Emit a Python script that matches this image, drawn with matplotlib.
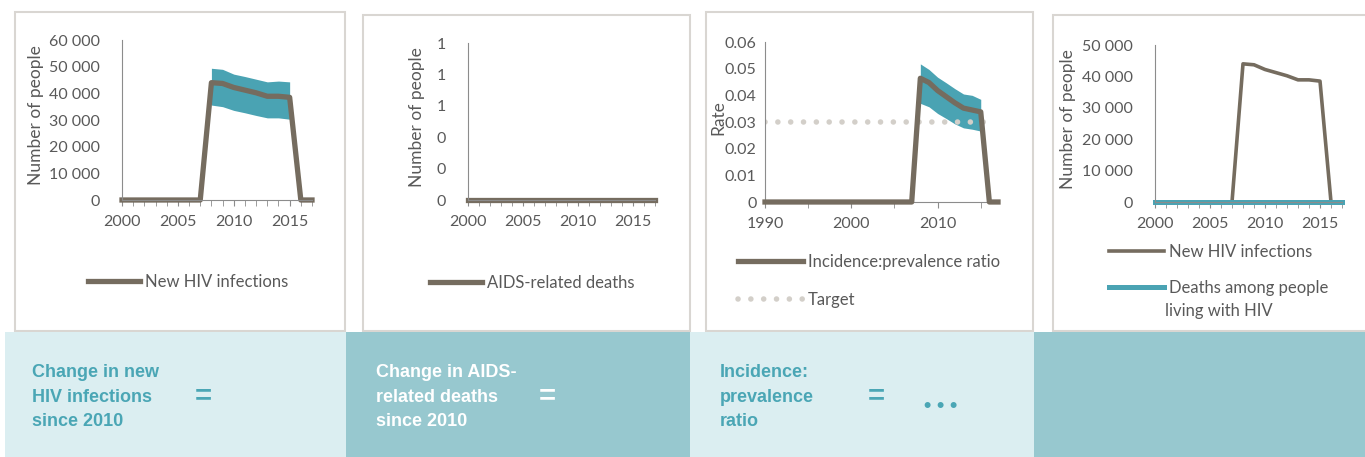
import matplotlib
matplotlib.use('Agg')
import matplotlib.pyplot as plt
from matplotlib.patches import Rectangle
from matplotlib.ticker import FuncFormatter, MultipleLocator

# ---- data ----
years = [2000, 2001, 2002, 2003, 2004, 2005, 2006, 2007, 2008, 2009,
         2010, 2011, 2012, 2013, 2014, 2015, 2016, 2017]
new_infections = [0, 0, 0, 0, 0, 0, 0, 0, 44000, 43700,
                  42200, 41200, 40200, 38900, 38900, 38500, 0, 0]
band_years = [2008, 2009, 2010, 2011, 2012, 2013, 2014, 2015]
infections_upper = [49400, 49000, 47200, 46300, 45300, 44300, 44600, 44300]
infections_lower = [35600, 35000, 33600, 32700, 31700, 30800, 30800, 30300]

aids_deaths = [0, 0, 0, 0, 0, 0, 0, 0, 0, 0, 0, 0, 0, 0, 0, 0, 0, 0]
deaths_plhiv = [0, 0, 0, 0, 0, 0, 0, 0, 0, 0, 0, 0, 0, 0, 0, 0, 0, 0]

ratio_years = [1990, 1991, 1992, 1993, 1994, 1995, 1996, 1997, 1998, 1999,
               2000, 2001, 2002, 2003, 2004, 2005, 2006, 2007, 2008, 2009,
               2010, 2011, 2012, 2013, 2014, 2015, 2016, 2017]
ratio = [0, 0, 0, 0, 0, 0, 0, 0, 0, 0,
         0, 0, 0, 0, 0, 0, 0, 0, 0.0464, 0.0448,
         0.0418, 0.0395, 0.0372, 0.0352, 0.0345, 0.0338, 0, 0]
ratio_upper = [0.0518, 0.0497, 0.0468, 0.0447, 0.0425, 0.0405, 0.0400, 0.0385]
ratio_lower = [0.0370, 0.0357, 0.0332, 0.0313, 0.0293, 0.0278, 0.0273, 0.0266]
target_years = [1990, 2016]
target = [0.03, 0.03]

LINE = '#756C5F'
TEAL = '#4AA3B3'
GREY = '#595959'
BOX = '#D9D6D2'
LIGHT = '#DBEEF1'
DARK = '#97C8CF'
TXT = '#4AA6B5'
DOTS = '#D3CFC9'

W, H = 1365, 457
fig = plt.figure(figsize=(W / 100, H / 100), dpi=100)
plt.rcParams['font.family'] = ['Lato', 'DejaVu Sans']


def px(x0, y0, x1, y1):
    # pixel box (top-left origin) -> figure fraction rect
    return [x0 / W, 1 - y1 / H, (x1 - x0) / W, (y1 - y0) / H]


def style_axis(ax, xmin, xmax, ymax, major, minor, ylabel, lab_x, pad):
    ax.set_xlim(xmin, xmax)
    ax.set_ylim(0, ymax)
    for s in ['top', 'right']:
        ax.spines[s].set_visible(False)
    ax.spines['left'].set_color('#8C8C8C')
    ax.spines['bottom'].set_color('#8C8C8C')
    ax.xaxis.set_major_locator(MultipleLocator(major))
    ax.xaxis.set_minor_locator(MultipleLocator(minor))
    ax.tick_params(axis='x', which='both', direction='out', length=4,
                   color='#8C8C8C', labelsize=11.5, labelcolor=GREY, pad=7)
    ax.tick_params(axis='y', length=0, labelsize=11.5, labelcolor=GREY, pad=pad)
    ax.set_ylabel(ylabel, fontsize=12.5, color=GREY)
    ax.yaxis.set_label_coords(lab_x, 0.53)
    ax.patch.set_alpha(0)


def put_legend(ax, handles, labels, x, y, hl, sp=0.5, loc='center left'):
    ax.legend(handles, labels, loc=loc, bbox_to_anchor=(x / W, 1 - y / H),
              bbox_transform=fig.transFigure, frameon=False, fontsize=12,
              handlelength=hl, handletextpad=0.3, labelcolor=GREY,
              labelspacing=sp)


space_fmt = FuncFormatter(lambda v, p: f'{int(v):,}'.replace(',', ' '))

# white boxes behind each chart
for x0, y0, x1 in [(15, 12, 345), (363, 15, 690), (706, 12, 1033), (1053, 15, 1375)]:
    fig.add_artist(Rectangle((x0 / W, 1 - 331 / H), (x1 - x0) / W, (331 - y0) / H,
                             transform=fig.transFigure, facecolor='white',
                             edgecolor=BOX, lw=1.5, zorder=-2))

# bottom band
for x0, x1, c in [(5, 346, LIGHT), (346, 690, DARK), (690, 1034, LIGHT), (1034, 1365, DARK)]:
    fig.add_artist(Rectangle((x0 / W, 0), (x1 - x0) / W, 1 - 332 / H,
                             transform=fig.transFigure, facecolor=c, edgecolor='none',
                             zorder=-1))

# panel 1: new HIV infections
ax1 = fig.add_axes(px(122, 40, 312, 200))
ax1.fill_between(band_years, infections_lower, infections_upper, color=TEAL, lw=0)
ax1.plot(years, new_infections, color=LINE, lw=3.8, label='New HIV infections',
         solid_joinstyle='round', clip_on=False)
style_axis(ax1, 2000, 2017, 60000, 5, 1, 'Number of people', -0.41, 16)
ax1.set_yticks(range(0, 60001, 10000))
ax1.yaxis.set_major_formatter(space_fmt)
h, l = ax1.get_legend_handles_labels()
put_legend(ax1, h, l, 73, 282, 3.1)

# panel 2: AIDS-related deaths
ax2 = fig.add_axes(px(468, 43, 655, 200))
ax2.plot(years, aids_deaths, color=LINE, lw=3.8, label='AIDS-related deaths',
         clip_on=False)
style_axis(ax2, 2000, 2017, 1, 5, 1, 'Number of people', -0.23, 16)
ax2.set_yticks([0, 0.2, 0.4, 0.6, 0.8, 1.0])
ax2.yaxis.set_major_formatter(FuncFormatter(lambda v, p: f'{v:.0f}'))
h, l = ax2.get_legend_handles_labels()
put_legend(ax2, h, l, 415, 283, 3.1)

# panel 3: incidence:prevalence ratio
ax3 = fig.add_axes(px(765, 42, 998, 202))
ax3.fill_between(band_years, ratio_lower, ratio_upper, color=TEAL, lw=0)
ax3.plot(target_years, target, color=DOTS, lw=4.0, dashes=[0.01, 2.3],
         dash_capstyle='round', label='Target', zorder=1)
ax3.plot(ratio_years, ratio, color=LINE, lw=3.8, label='Incidence:prevalence ratio',
         zorder=3, clip_on=False)
style_axis(ax3, 1990, 2017, 0.06, 10, 5, 'Rate', -0.165, 6)
ax3.set_yticks([0, 0.01, 0.02, 0.03, 0.04, 0.05, 0.06])
ax3.yaxis.set_major_formatter(FuncFormatter(lambda v, p: f'{v:g}'))
h, l = ax3.get_legend_handles_labels()
put_legend(ax3, h[::-1], l[::-1], 723, 281, 3.9, sp=1.3)

# panel 4: new infections and deaths among PLHIV
ax4 = fig.add_axes(px(1155, 45, 1342, 202))
ax4.plot(years, new_infections, color=LINE, lw=2.6, label='New HIV infections')
ax4.plot(years, deaths_plhiv, color=TEAL, lw=3.6, clip_on=False,
         label='Deaths among people')
style_axis(ax4, 2000, 2017, 50000, 5, 1, 'Number of people', -0.42, 16)
ax4.set_yticks(range(0, 50001, 10000))
ax4.yaxis.set_major_formatter(space_fmt)
h, l = ax4.get_legend_handles_labels()
put_legend(ax4, h, l, 1094, 270, 3.3, sp=1.2)
fig.text(1165 / W, 1 - 311 / H, 'living with HIV', fontsize=12, color=GREY,
         va='center', ha='left')

# summary band text
bold = dict(family=['Liberation Sans', 'DejaVu Sans'], fontweight='bold',
            fontsize=13, va='center', ha='left', linespacing=1.55)
sign = dict(family=['Liberation Sans', 'DejaVu Sans'], fontweight='bold',
            fontsize=21, va='center', ha='left')
fig.text(32 / W, 1 - 397 / H, 'Change in new\nHIV infections\nsince 2010', color=TXT, **bold)
fig.text(195 / W, 1 - 396 / H, '=', color=TXT, **sign)
fig.text(376 / W, 1 - 397 / H, 'Change in AIDS-\nrelated deaths\nsince 2010', color='white', **bold)
fig.text(539 / W, 1 - 396 / H, '=', color='white', **sign)
fig.text(720 / W, 1 - 397 / H, 'Incidence:\nprevalence\nratio', color=TXT, **bold)
fig.text(868 / W, 1 - 396 / H, '=', color=TXT, **sign)
fig.text(924 / W, 1 - 406 / H, '• • •', color=TXT, family=['Liberation Sans', 'DejaVu Sans'],
         fontweight='bold', fontsize=15, va='center', ha='left')

fig.savefig('out.png', dpi=100)
